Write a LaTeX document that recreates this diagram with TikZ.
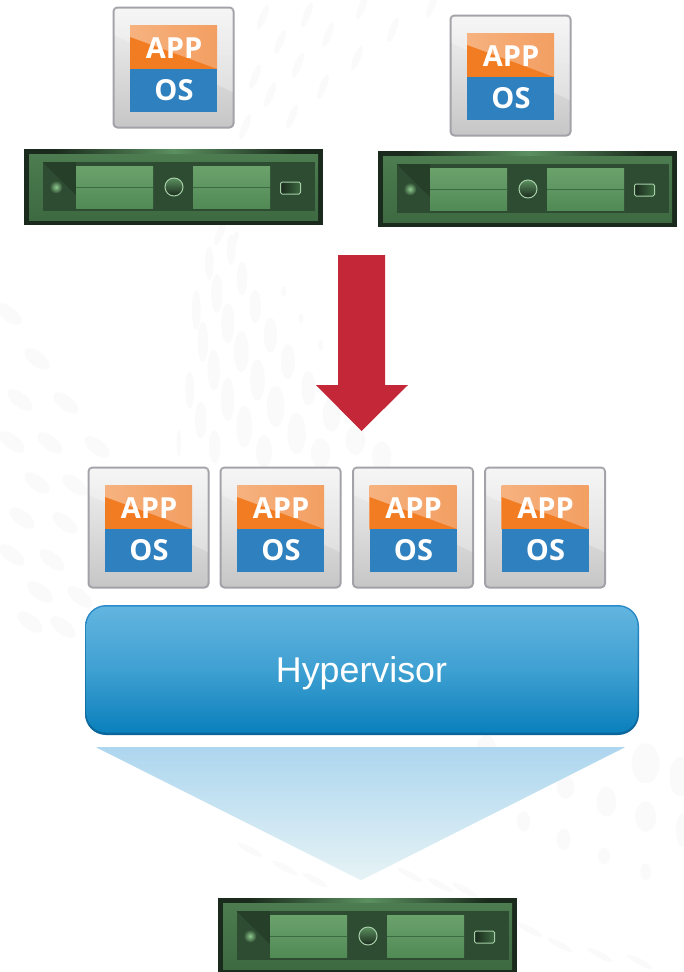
\documentclass[tikz,border=0pt]{standalone}
\usepackage{fontspec}
\setmainfont{Liberation Sans}
\newfontfamily\tilefont{Open Sans}
\definecolor{dotc}{HTML}{FAFAFA}
\definecolor{tileline}{HTML}{A2A2A8}
\definecolor{tiletop}{HTML}{F3F3F4}
\definecolor{tilebot}{HTML}{C6C6C7}
\definecolor{orangeb}{HTML}{F27C22}
\definecolor{orangehi}{HTML}{F6B27F}
\definecolor{orangehib}{HTML}{F39F62}
\definecolor{osblue}{HTML}{2E80BF}
\definecolor{srvdark}{HTML}{1A2A1C}
\definecolor{srvmid}{HTML}{5B9060}
\definecolor{srvframe}{HTML}{4C7C4F}
\definecolor{srvframeb}{HTML}{3E6A42}
\definecolor{srvpanel}{HTML}{2E4C31}
\definecolor{srvpaneld}{HTML}{263F29}
\definecolor{drivetop}{HTML}{6BA26C}
\definecolor{drivebot}{HTML}{528A56}
\definecolor{drivel}{HTML}{3B6A42}
\definecolor{ringc}{HTML}{A6CFA8}
\definecolor{ledc}{HTML}{8FCB90}
\definecolor{hvtop}{HTML}{62B5DF}
\definecolor{hvmid}{HTML}{3FA0D2}
\definecolor{hvbot}{HTML}{0A80BC}
\definecolor{hvlinet}{HTML}{2B8CCB}
\definecolor{hvlineb}{HTML}{0A669A}
\definecolor{conetop}{HTML}{ADD6EF}
\definecolor{conebot}{HTML}{E6F3F5}
\definecolor{arrowred}{HTML}{C42737}
\tikzset{
  every node/.style={inner sep=0pt,outer sep=0pt},
  dot/.style={fill=dotc,draw=none},
  tilebox/.style={anchor=north west,minimum width=120pt,minimum height=120pt,rounded corners=4pt,draw=tileline,line width=2pt,top color=tiletop,bottom color=tilebot},
  appbox/.style={anchor=north west,minimum width=87pt,minimum height=44pt,left color=orangehi,right color=orangehib},
  osbox/.style={anchor=north west,minimum width=87pt,minimum height=43pt,fill=osblue},
  tiletext/.style={text=white,font=\tilefont\bfseries\fontsize{29}{29}\selectfont},
  srvbody/.style={anchor=north west,minimum width=299pt,minimum height=76pt,fill=srvdark},
  srvframebox/.style={anchor=north west,minimum width=289pt,minimum height=66pt,top color=srvframe,bottom color=srvframeb},
  srvpanelbox/.style={anchor=north west,minimum width=272pt,minimum height=49pt,fill=srvpanel},
  drivebox/.style={anchor=north west,minimum width=77pt,minimum height=42pt,top color=drivetop,bottom color=drivebot},
  ringnode/.style={circle,minimum size=18pt,draw=ringc,line width=1pt,top color=srvmid,bottom color=srvdark},
  portnode/.style={minimum width=20pt,minimum height=12pt,rounded corners=1.5pt,draw=ringc,line width=1pt,left color=srvdark,right color=srvframeb},
  lednode/.style={circle,minimum size=13pt,inner color=ledc,outer color=srvpanel},
  hvbase/.style={anchor=north west,minimum width=554pt,minimum height=130pt,rounded corners=21pt,top color=hvlinet,bottom color=hvlineb},
  hvbox/.style={anchor=north west,minimum width=551pt,minimum height=126pt,rounded corners=19.5pt,top color=hvtop,bottom color=hvbot,middle color=hvmid},
}
\newcommand{\tile}[3]{%
  \begin{scope}[shift={(#2,#3)}]
    \node[tilebox] (#1) at (0.5,0.5) {};
    \fill[white,opacity=.28] (1.5,1.5) -- (119.5,1.5) -- (119.5,85) -- (1.5,28) -- cycle;
    \node[appbox] (#1a) at (17,18) {};
    \fill[orangeb] (17,30) -- (104,62) -- (17,62) -- cycle;
    \node[osbox] (#1o) at (17,62) {};
    \node[tiletext] (#1at) at (61,41) {APP};
    \node[tiletext] (#1ot) at (61,83) {OS};
  \end{scope}}
\newcommand{\server}[3]{%
  \begin{scope}[shift={(#2,#3)}]
    \node[srvbody] (#1) at (0,0) {};
    \fill[left color=srvdark,right color=srvdark,middle color=srvmid] (30,0) rectangle (270,5);
    \node[srvframebox] (#1f) at (5,5) {};
    \node[srvpanelbox] (#1p) at (18.5,13) {};
    \fill[srvpaneld] (18.5,13) -- (52,13) -- (52,46) -- cycle;
    \node[drivebox] (#1d) at (52,17) {};
    \node[drivebox] (#1e) at (169,17) {};
    \draw[drivel,line width=.8pt] (#1d.west) -- (#1d.east);
    \draw[drivel,line width=.8pt] (#1e.west) -- (#1e.east);
    \node[lednode] (#1l) at (32,38) {};
    \node[ringnode] (#1r) at (150,38) {};
    \node[portnode] (#1b) at (266.5,39) {};
  \end{scope}}
\begin{document}
\begin{tikzpicture}[x=1pt,y=-1pt]
\useasboundingbox (0,0) rectangle (684,972);
\fill[white] (0,0) rectangle (684,972);
% faint background texture
\foreach \a/\b/\c/\d in {480/70/10/50,555/115/12/50,497/160/13/58,585/200/13/50,450/210/10/60,522/250/15/60,620/285/15/52,465/305/12/60,553/335/17/62,660/365/16/52,490/390/14/62,590/420/17/62,707/445/16/52,435/450/10/55,522/478/15/65,632/500/20/62,760/525/20/50,460/540/13/55,560/560/18/62,680/580/21/62,815/600/22/45,605/635/18/50,735/640/22/45,875/650/22/45,492/620/13/50,410/610/5/40,530/30/10/45,650/155/6/15,690/235/6/15,735/315/6/15}
  \fill[dot] ({\a*0.4362},{240+\b/3}) ellipse [x radius={\c*0.4362},y radius={\d/3}];
\foreach \a/\b/\c/\d in {1480/100/32/60,1390/215/22/45,1480/260/24/45,1297/170/20/35,1200/275/15/30,1292/328/16/32,1385/378/14/25,1480/425/12/25,1205/100/20/45,1115/55/22/40,1108/215/12/25,1020/155/10/25,938/90/10/25,1560/140/25/60,1565/300/15/50}
  \fill[dot] ({\a*0.4362},{730+\b/3}) ellipse [x radius={\c*0.4362},y radius={\d/3}];
\foreach \a/\b in {12/442,50/443,97/447,37/483,75/485,22/518,65/523,12/555,52/560,40/592,80/597,30/622,63/627,37/359,20/400,66/403,9/314}
  \fill[dot,rotate around={-38:(\a,\b)}] (\a,\b) ellipse [x radius=15,y radius=7];
\foreach \a/\b in {307/15,280/42,328/35,298/65,270/95,393/30,362/7,432/5,357/58,323/87,292/117,245/127,255/77,263/17,233/243,220/233}
  \fill[dot,rotate around={68:(\a,\b)}] (\a,\b) ellipse [x radius=13,y radius=3.5];
\foreach \a/\b in {250/850,285/868,315/880,410/875,440/885,465/890,530/930,560/945,600/955,640/962}
  \fill[dot,rotate around={-28:(\a,\b)}] (\a,\b) ellipse [x radius=14,y radius=3];
% top row
\tile{ta}{113}{7}
\tile{tb}{450}{15}
\server{sa}{24}{149}
\server{sb}{378}{151}
% arrow
\coordinate (arrowtop) at (361.5,255);
\coordinate (arrowtip) at (361.5,431);
\fill[arrowred] (arrowtop) ++(-23.5,0) -- ++(47,0) -- ++(0,130) -- ++(23,0) -- (arrowtip) -- (316,385) -- (338,385) -- cycle;
% guests
\tile{tc}{88}{467}
\tile{td}{220}{467}
\tile{te}{352.5}{467}
\tile{tf}{484.5}{467}
% hypervisor
\node[hvbase] (hvb) at (85,605) {};
\node[hvbox] (hv) at (86.5,606.5) {};
\node[text=white,font=\fontsize{35.8}{36}\selectfont] (hvt) at (361.5,673.5) {Hypervisor};
% cone, built of one-pixel bands
\coordinate (conel) at (96,747);
\coordinate (coner) at (625,747);
\coordinate (conetip) at (361,880);
\foreach \i [evaluate=\i as \p using {100-\i/1.33}] in {0,...,132}
  \fill[conetop!\p!conebot] ({96+\i*1.99248},{747+\i}) -- ({625-\i*1.98496},{747+\i}) -- ({625-(\i+1)*1.98496},{748.3+\i}) -- ({96+(\i+1)*1.99248},{748.3+\i}) -- cycle;
% host
\server{sc}{218}{898}
\end{tikzpicture}
\end{document}
